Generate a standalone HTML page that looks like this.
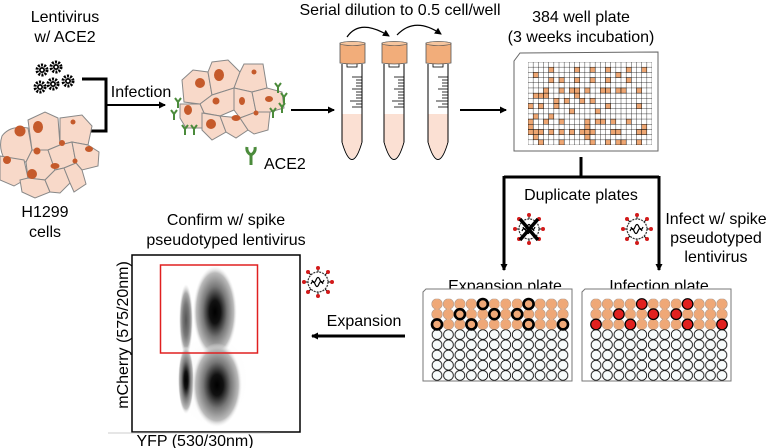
<!DOCTYPE html>
<html><head><meta charset="utf-8"><style>
html,body{margin:0;padding:0;background:#fff;}
svg{display:block;font-family:"Liberation Sans",Arial,sans-serif;}
</style></head><body>
<svg width="782" height="448" viewBox="0 0 782 448" xmlns="http://www.w3.org/2000/svg">
<defs>
<marker id="ah" markerWidth="8" markerHeight="8" refX="6" refY="4" orient="auto" markerUnits="userSpaceOnUse"><path d="M0,0.5 L7,4 L0,7.5 z" fill="#000"/></marker>
<g id="vir">
 <g stroke="#000" stroke-width="1">
  <line x1="0" y1="-14" x2="0" y2="14"/><line x1="-14" y1="0" x2="14" y2="0"/>
  <line x1="-10" y1="-10" x2="10" y2="10"/><line x1="-10" y1="10" x2="10" y2="-10"/>
 </g>
 <circle r="10" fill="#fff" stroke="#333" stroke-width="1.2" stroke-dasharray="2 1"/>
 <path d="M-7,2 q2,-5 4,0 t4,0 t4,0" fill="none" stroke="#000" stroke-width="1.2"/>
 <path d="M-6,-2 q2,5 4,0 t4,0 t4,0" fill="none" stroke="#000" stroke-width="1.2"/>
 <g fill="#d21a1a">
  <circle cx="0" cy="-14" r="2"/><circle cx="0" cy="14" r="2"/><circle cx="-14" cy="0" r="2"/><circle cx="14" cy="0" r="2"/>
  <circle cx="-10" cy="-10" r="2"/><circle cx="10" cy="10" r="2"/><circle cx="-10" cy="10" r="2"/><circle cx="10" cy="-10" r="2"/>
 </g>
</g>
<g id="gear">
 <circle r="5" fill="none" stroke="#000" stroke-width="3" stroke-dasharray="2 1.2"/>
 <circle r="3" fill="#000"/><circle r="1.3" fill="#fff"/>
</g>
<g id="tube">
 <path d="M2,22 L2,100 Q12,135 22,100 L22,22" fill="#fff" stroke="#000" stroke-width="1"/>
 <path d="M2.5,72 L21.5,72 L21.5,100 Q12,133 2.5,100 z" fill="#fbe0d3"/>
 <rect x="7" y="20" width="10" height="5" fill="#fff" stroke="#000" stroke-width="0.8"/>
 <path d="M0,1 Q12,-2 25,1 L25,21 Q12,23 0,21 z" fill="#f2ad7a" stroke="#555" stroke-width="0.8"/>
 <ellipse cx="12.5" cy="1.5" rx="12.5" ry="2" fill="#f6c59e" stroke="#555" stroke-width="0.6"/>
 <g stroke="#000" stroke-width="0.8">
  <line x1="12" y1="35" x2="22" y2="35"/><line x1="16" y1="38" x2="22" y2="38"/><line x1="16" y1="41" x2="22" y2="41"/><line x1="16" y1="44" x2="22" y2="44"/><line x1="12" y1="47" x2="22" y2="47"/><line x1="16" y1="50" x2="22" y2="50"/><line x1="16" y1="53" x2="22" y2="53"/><line x1="16" y1="56" x2="22" y2="56"/><line x1="10" y1="59" x2="22" y2="59"/><line x1="16" y1="62" x2="22" y2="62"/><line x1="12" y1="65" x2="22" y2="65"/>
 </g>
</g>
<g id="ace">
 <path d="M0,0 L0,-6 M0,-6 L-3,-10 M0,-6 L3,-10" stroke="#4b8b3b" stroke-width="2" fill="none"/>
</g>
<pattern id="wp" patternUnits="userSpaceOnUse" x="431.3" y="298.9" width="11.45" height="10.2"><circle cx="5.72" cy="5.1" r="4.9" fill="#f7fbfb" stroke="#000" stroke-width="0.8"/></pattern>
<pattern id="op" patternUnits="userSpaceOnUse" x="431.3" y="298.9" width="11.45" height="10.2"><circle cx="5.72" cy="5.1" r="5" fill="#efa877" stroke="#e8b08a" stroke-width="0.6"/></pattern>
<pattern id="wp2" patternUnits="userSpaceOnUse" x="590.3" y="298.9" width="11.45" height="10.2"><circle cx="5.72" cy="5.1" r="4.9" fill="#f7fbfb" stroke="#000" stroke-width="0.8"/></pattern>
<pattern id="op2" patternUnits="userSpaceOnUse" x="590.3" y="298.9" width="11.45" height="10.2"><circle cx="5.72" cy="5.1" r="5" fill="#efa877" stroke="#e8b08a" stroke-width="0.6"/></pattern>
<radialGradient id="g1" cx="50%" cy="50%" r="50%"><stop offset="0" stop-color="#000"/><stop offset="0.25" stop-color="#111"/><stop offset="0.4" stop-color="#444"/><stop offset="0.55" stop-color="#777"/><stop offset="0.7" stop-color="#999"/><stop offset="0.85" stop-color="#bbb"/><stop offset="1" stop-color="#eee" stop-opacity="0"/></radialGradient>
<radialGradient id="g2" cx="50%" cy="50%" r="50%"><stop offset="0" stop-color="#555"/><stop offset="0.45" stop-color="#777"/><stop offset="0.75" stop-color="#aaa"/><stop offset="1" stop-color="#ddd" stop-opacity="0"/></radialGradient>
<radialGradient id="g3" cx="50%" cy="50%" r="50%"><stop offset="0" stop-color="#eee"/><stop offset="1" stop-color="#f8f8f8" stop-opacity="0"/></radialGradient>
</defs>

<g font-size="16" text-anchor="middle" fill="#000">
<text x="65" y="22">Lentivirus</text>
<text x="65" y="42">w/ ACE2</text>
<text x="45" y="217">H1299</text>
<text x="45" y="237">cells</text>
<text x="141" y="97" >Infection</text>
<text x="400" y="15">Serial dilution to 0.5 cell/well</text>
<text x="581" y="22">384 well plate</text>
<text x="581" y="42">(3 weeks incubation)</text>
<text x="581" y="200">Duplicate plates</text>
<text x="716" y="224">Infect w/ spike</text>
<text x="716" y="243">pseudotyped</text>
<text x="716" y="262">lentivirus</text>
<text x="505" y="291">Expansion plate</text>
<text x="659" y="291">Infection plate</text>
<text x="226" y="225">Confirm w/ spike</text>
<text x="226" y="245">pseudotyped lentivirus</text>
<text x="364" y="326">Expansion</text>
<text x="195" y="446">YFP (530/30nm)</text>
<text x="0" y="0" transform="translate(128,335) rotate(-90)">mCherry (575/20nm)</text>
<text x="264" y="169" text-anchor="start">ACE2</text>
</g>

<use href="#gear" x="42" y="70"/><use href="#gear" x="56" y="67"/>
<use href="#gear" x="40" y="87"/><use href="#gear" x="53" y="84"/><use href="#gear" x="68" y="81"/>

<path d="M82,79 H106 V131 H89" fill="none" stroke="#000" stroke-width="3"/>
<line x1="106" y1="105" x2="165" y2="105" stroke="#000" stroke-width="2" marker-end="url(#ah)"/>

<g fill="#f8d9c9" stroke="#888" stroke-width="1">
<path d="M2,136 Q10,125 28,128 L32,150 L26,162 L5,160 Q-2,148 2,136z"/>
<path d="M28,120 L45,112 L58,118 L60,145 L48,150 L32,150 z"/>
<path d="M60,118 L82,115 L92,126 L88,145 L72,142 L60,145 z"/>
<path d="M0,156 L24,160 L28,178 L14,186 L0,180 z"/>
<path d="M26,162 L32,150 L48,150 L55,170 L45,180 L28,178 z"/>
<path d="M48,150 L60,145 L72,142 L76,163 L64,168 L55,170 z"/>
<path d="M72,142 L88,145 L99,152 L98,166 L82,170 L76,163 z"/>
<path d="M20,180 L28,178 L45,180 L50,192 L35,198 L22,192 z"/>
<path d="M45,180 L55,170 L64,168 L70,183 L60,193 L50,192 z"/>
<path d="M64,168 L76,163 L82,170 L86,184 L74,192 L70,183 z"/>
</g>
<g fill="#c55a2b">
<circle cx="20" cy="131" r="5.5"/><ellipse cx="38" cy="127" rx="5" ry="6"/><circle cx="73" cy="122" r="2.5"/>
<circle cx="7" cy="160" r="4"/><circle cx="37" cy="151" r="3.5"/><circle cx="62" cy="143" r="3"/>
<ellipse cx="89" cy="149" rx="4" ry="3"/><circle cx="32" cy="174" r="5"/><ellipse cx="55" cy="166" rx="4.5" ry="3"/><circle cx="75" cy="161" r="2.5"/>
</g>

<g fill="#f8d9c9" stroke="#888" stroke-width="1">
<path d="M182,80 L193,70 L208,72 L212,95 L200,104 L184,102 z"/>
<path d="M208,72 L212,62 L228,60 L240,72 L234,88 L212,95 z"/>
<path d="M240,72 L244,64 L263,64 L267,88 L252,92 L234,88 z"/>
<path d="M200,104 L212,95 L234,88 L234,110 L220,116 L204,113 z"/>
<path d="M234,88 L252,92 L256,112 L240,118 L234,110 z"/>
<path d="M252,92 L267,88 L282,92 L284,108 L270,112 L256,112 z"/>
<path d="M180,104 L200,104 L204,113 L202,128 L186,128 L180,118 z"/>
<path d="M202,113 L220,116 L226,132 L212,140 L202,130 z"/>
<path d="M220,116 L240,118 L248,130 L236,138 L226,132 z"/>
<path d="M240,118 L256,112 L270,112 L268,130 L254,134 L248,130 z"/>
</g>
<g fill="#c55a2b">
<circle cx="200" cy="83" r="5"/><ellipse cx="219" cy="75" rx="5" ry="6"/><circle cx="254" cy="72" r="2.5"/>
<circle cx="216" cy="101" r="3.5"/><ellipse cx="242" cy="101" rx="3" ry="4"/><ellipse cx="269" cy="99" rx="4" ry="3"/>
<ellipse cx="188" cy="110" rx="4" ry="5"/><circle cx="211" cy="124" r="5"/><ellipse cx="236" cy="118" rx="4.5" ry="3"/><circle cx="256" cy="113" r="2.5"/>
</g>
<use href="#ace" x="278" y="93"/>
<use href="#ace" x="284" y="103"/>
<use href="#ace" x="178" y="108"/>
<use href="#ace" x="174" y="120"/>
<use href="#ace" x="185" y="135"/>
<use href="#ace" x="194" y="135"/>
<use href="#ace" x="273" y="118"/>
<use href="#ace" x="282" y="113"/>
<path d="M251,165 V155 M251,155 Q246,152 247,147 M251,155 Q256,152 255,147" stroke="#4b8b3b" stroke-width="3" fill="none"/>

<line x1="291" y1="110" x2="334" y2="110" stroke="#000" stroke-width="2" marker-end="url(#ah)"/>

<use href="#tube" x="340" y="42"/>
<use href="#tube" x="382" y="42"/>
<use href="#tube" x="426" y="42"/>
<path d="M347,37 Q360,18 389,36" fill="none" stroke="#000" stroke-width="1.2" marker-end="url(#ah)"/>
<path d="M397,35 Q415,16 441,34" fill="none" stroke="#000" stroke-width="1.2" marker-end="url(#ah)"/>
<line x1="460" y1="110" x2="506" y2="110" stroke="#000" stroke-width="2" marker-end="url(#ah)"/>

<path d="M520,53 L658,52 L658,151 L514,151 L514,61 z" fill="#fff" stroke="#666" stroke-width="1"/>
<svg x="528" y="62" width="124" height="83" viewBox="0 0 24 16" preserveAspectRatio="none">
<g fill="#eea672" stroke="#000" stroke-width="0.06">
<rect x="4" y="1" width="1" height="1"/><rect x="9" y="1" width="1" height="1"/><rect x="12" y="1" width="1" height="1"/><rect x="15" y="1" width="1" height="1"/><rect x="19" y="1" width="1" height="1"/><rect x="22" y="1" width="1" height="1"/>
<rect x="1" y="2" width="1" height="1"/><rect x="17" y="2" width="1" height="1"/>
<rect x="4" y="3" width="1" height="1"/><rect x="6" y="3" width="1" height="1"/><rect x="9" y="3" width="1" height="1"/><rect x="12" y="3" width="1" height="1"/><rect x="15" y="3" width="1" height="1"/><rect x="19" y="3" width="1" height="1"/>
<rect x="3" y="5" width="1" height="1"/><rect x="6" y="5" width="1" height="1"/><rect x="8" y="5" width="1" height="1"/><rect x="9" y="5" width="1" height="1"/><rect x="11" y="5" width="1" height="1"/><rect x="14" y="5" width="1" height="1"/><rect x="15" y="5" width="1" height="1"/><rect x="17" y="5" width="1" height="1"/><rect x="18" y="5" width="1" height="1"/><rect x="21" y="5" width="1" height="1"/>
<rect x="1" y="6" width="1" height="1"/><rect x="2" y="6" width="1" height="1"/><rect x="3" y="6" width="1" height="1"/><rect x="9" y="6" width="1" height="1"/>
<rect x="5" y="7" width="1" height="1"/><rect x="7" y="7" width="1" height="1"/><rect x="10" y="7" width="1" height="1"/><rect x="12" y="7" width="1" height="1"/>
<rect x="0" y="8" width="1" height="1"/><rect x="2" y="8" width="1" height="1"/><rect x="5" y="8" width="1" height="1"/><rect x="15" y="8" width="1" height="1"/><rect x="21" y="8" width="1" height="1"/>
<rect x="8" y="9" width="1" height="1"/><rect x="13" y="9" width="1" height="1"/>
<rect x="1" y="10" width="1" height="1"/><rect x="4" y="10" width="1" height="1"/>
<rect x="0" y="11" width="1" height="1"/><rect x="3" y="11" width="1" height="1"/><rect x="6" y="11" width="1" height="1"/><rect x="11" y="11" width="1" height="1"/><rect x="13" y="11" width="1" height="1"/><rect x="14" y="11" width="1" height="1"/><rect x="16" y="11" width="1" height="1"/><rect x="19" y="11" width="1" height="1"/>
<rect x="0" y="12" width="1" height="1"/><rect x="11" y="12" width="1" height="1"/><rect x="22" y="12" width="1" height="1"/>
<rect x="0" y="13" width="1" height="1"/><rect x="1" y="13" width="1" height="1"/><rect x="2" y="13" width="1" height="1"/><rect x="4" y="13" width="1" height="1"/><rect x="6" y="13" width="1" height="1"/><rect x="8" y="13" width="1" height="1"/><rect x="10" y="13" width="1" height="1"/><rect x="11" y="13" width="1" height="1"/><rect x="12" y="13" width="1" height="1"/><rect x="16" y="13" width="1" height="1"/><rect x="17" y="13" width="1" height="1"/><rect x="21" y="13" width="1" height="1"/><rect x="22" y="13" width="1" height="1"/>
<rect x="1" y="14" width="1" height="1"/><rect x="11" y="14" width="1" height="1"/>
<rect x="2" y="15" width="1" height="1"/><rect x="6" y="15" width="1" height="1"/><rect x="12" y="15" width="1" height="1"/><rect x="15" y="15" width="1" height="1"/><rect x="17" y="15" width="1" height="1"/><rect x="18" y="15" width="1" height="1"/><rect x="21" y="15" width="1" height="1"/>
</g>
<g stroke="#000" stroke-width="0.07">
<path d="M0,0V16M1,0V16M2,0V16M3,0V16M4,0V16M5,0V16M6,0V16M7,0V16M8,0V16M9,0V16M10,0V16M11,0V16M12,0V16M13,0V16M14,0V16M15,0V16M16,0V16M17,0V16M18,0V16M19,0V16M20,0V16M21,0V16M22,0V16M23,0V16M24,0V16"/>
<path d="M0,0H24M0,1H24M0,2H24M0,3H24M0,4H24M0,5H24M0,6H24M0,7H24M0,8H24M0,9H24M0,10H24M0,11H24M0,12H24M0,13H24M0,14H24M0,15H24M0,16H24"/>
</g>
</svg>

<path d="M581,157 V177 M504,177 H659" fill="none" stroke="#000" stroke-width="3"/>
<line x1="504" y1="176" x2="504" y2="270" stroke="#000" stroke-width="3" marker-end="url(#ah)"/>
<line x1="659" y1="176" x2="659" y2="270" stroke="#000" stroke-width="3" marker-end="url(#ah)"/>
<use href="#vir" x="529" y="229"/>
<path d="M520,219 L538,240 M538,219 L520,240" stroke="#000" stroke-width="3.5"/>
<use href="#vir" x="637" y="229"/>
<use href="#vir" x="318" y="282"/>

<path d="M426,289 L572,289 L572,381 L423,381 L423,292 z" fill="#fff" stroke="#777" stroke-width="1"/>
<rect x="431.3" y="298.9" width="137.4" height="81.6" fill="url(#wp)"/>
<rect x="431.3" y="298.9" width="137.4" height="30.6" fill="url(#op)"/>
<g fill="none" stroke="#000" stroke-width="2.6">
<circle cx="482.8" cy="304" r="5"/><circle cx="528.6" cy="304" r="5"/>
<circle cx="459.9" cy="314.2" r="5"/><circle cx="494.3" cy="314.2" r="5"/><circle cx="517.2" cy="314.2" r="5"/>
<circle cx="437" cy="324.4" r="5"/><circle cx="471.4" cy="324.4" r="5"/><circle cx="528.6" cy="324.4" r="5"/><circle cx="563" cy="324.4" r="5"/>
</g>
<path d="M585,289 L731,289 L731,381 L582,381 L582,292 z" fill="#fff" stroke="#777" stroke-width="1"/>
<rect x="590.3" y="298.9" width="137.4" height="81.6" fill="url(#wp2)"/>
<rect x="590.3" y="298.9" width="137.4" height="30.6" fill="url(#op2)"/>
<g fill="#e0201f" stroke="#000" stroke-width="1.2">
<circle cx="641.8" cy="304" r="5.3"/><circle cx="687.6" cy="304" r="5.3"/>
<circle cx="618.9" cy="314.2" r="5.3"/><circle cx="653.3" cy="314.2" r="5.3"/><circle cx="676.2" cy="314.2" r="5.3"/>
<circle cx="596" cy="324.4" r="5.3"/><circle cx="630.4" cy="324.4" r="5.3"/><circle cx="687.6" cy="324.4" r="5.3"/><circle cx="722" cy="324.4" r="5.3"/>
</g>
<line x1="405" y1="336" x2="312" y2="336" stroke="#000" stroke-width="3" marker-end="url(#ah)"/>

<rect x="132" y="255" width="168" height="177" fill="#fff" stroke="#000" stroke-width="1.5"/>
<ellipse cx="212" cy="380" rx="36" ry="46" fill="url(#g3)"/>
<ellipse cx="186" cy="320" rx="7" ry="36" fill="url(#g2)"/>
<ellipse cx="186" cy="380" rx="8" ry="34" fill="url(#g1)"/>
<ellipse cx="215" cy="312" rx="22" ry="46" fill="url(#g1)"/>
<ellipse cx="217" cy="385" rx="25" ry="42" fill="url(#g1)"/>
<rect x="160.5" y="265" width="97" height="88" fill="none" stroke="#e02020" stroke-width="1.5"/>
<line x1="108" y1="433" x2="270" y2="433" stroke="#ccc" stroke-width="1"/>
</svg>
</body></html>
